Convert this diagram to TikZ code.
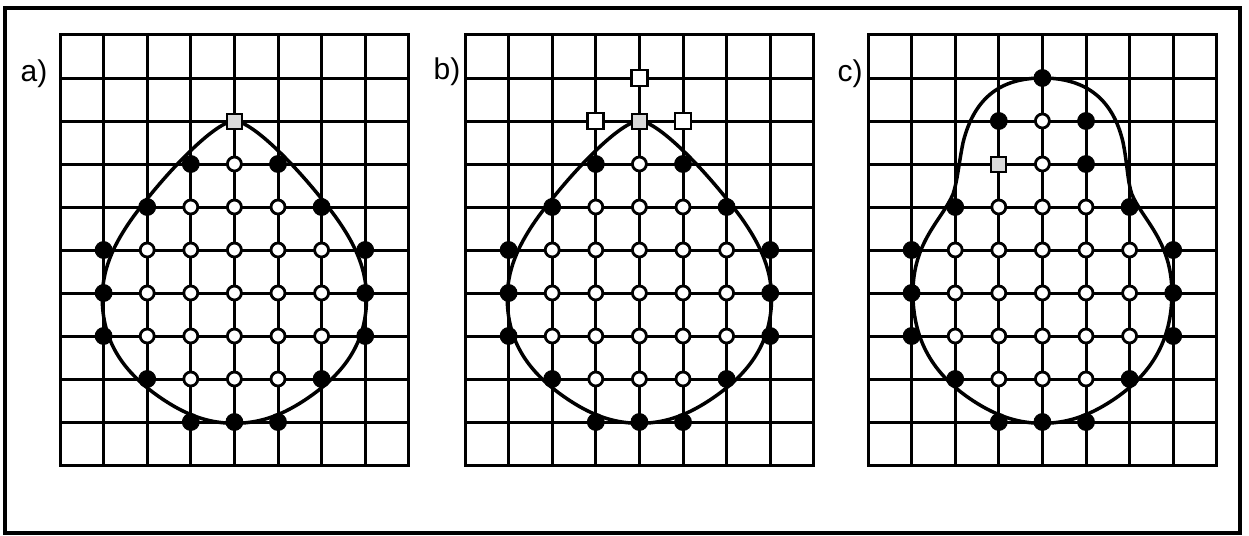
\documentclass[tikz,border=0pt]{standalone}
\usepackage{fontspec}
\setmainfont{Liberation Sans}
\begin{document}
\begin{tikzpicture}[x=1pt,y=-1pt,
  gridline/.style={line width=3pt},
  curveline/.style={line width=3.5pt},
  frameline/.style={line width=3.6pt},
  bdot/.style={circle,fill=black,draw=black,line width=0.8pt,minimum size=17pt,inner sep=0pt},
  wdot/.style={circle,fill=white,draw=black,line width=2.8pt,minimum size=14pt,inner sep=0pt},
  gsq/.style={rectangle,fill=gray!30,draw=black,line width=2pt,minimum size=15pt,inner sep=0pt},
  wsq/.style={rectangle,fill=white,draw=black,line width=2.8pt,minimum size=16pt,inner sep=0pt},
  lbl/.style={font=\fontsize{30}{30}\selectfont,inner sep=0pt},
  panel/.style={x=43.6pt,y=-43pt}]
\useasboundingbox (0,0) rectangle (1249,535);
\draw[frameline] (5,8) rectangle (1240,533);
\node[lbl] (la) at (34,74) {a)};
\node[lbl] (lb) at (447,72) {b)};
\node[lbl] (lc) at (850,74) {c)};
\def\eggpath{(4,2) .. controls (4.4,2) and (5.45,3.05) .. (6.3,4.2) .. controls (6.8,4.9) and (7.05,5.5) .. (7.03,6.2) .. controls (7.0,7.2) and (6.5,7.9) .. (5.6,8.5) .. controls (5.0,8.9) and (4.5,9.03) .. (4,9.03) .. controls (3.5,9.03) and (3.0,8.9) .. (2.4,8.5) .. controls (1.5,7.9) and (1.0,7.2) .. (0.97,6.2) .. controls (0.95,5.5) and (1.2,4.9) .. (1.7,4.2) .. controls (2.55,3.05) and (3.6,2) .. cycle}
% ---------- panel a ----------
\begin{scope}[xshift=60pt,yshift=-35pt,panel]
  \foreach \i in {1,...,7} \draw[gridline] (\i,0) -- (\i,10);
  \foreach \j in {1,...,9} \draw[gridline] (0,\j) -- (8,\j);
  \draw[gridline] (0,0) rectangle (8,10);
  \draw[curveline] \eggpath;
  \foreach \i/\j in {3/3,5/3,2/4,6/4,1/5,7/5,1/6,7/6,1/7,7/7,2/8,6/8,3/9,4/9,5/9}
    \node[bdot] (a-\i-\j) at (\i,\j) {};
  \foreach \i/\j in {4/3,3/4,4/4,5/4,2/5,3/5,4/5,5/5,6/5,2/6,3/6,4/6,5/6,6/6,2/7,3/7,4/7,5/7,6/7,3/8,4/8,5/8}
    \node[wdot] (a-\i-\j) at (\i,\j) {};
  \node[gsq] (a-4-2) at (4,2) {};
\end{scope}
% ---------- panel b ----------
\begin{scope}[xshift=465pt,yshift=-35pt,panel]
  \foreach \i in {1,...,7} \draw[gridline] (\i,0) -- (\i,10);
  \foreach \j in {1,...,9} \draw[gridline] (0,\j) -- (8,\j);
  \draw[gridline] (0,0) rectangle (8,10);
  \draw[curveline] \eggpath;
  \foreach \i/\j in {3/3,5/3,2/4,6/4,1/5,7/5,1/6,7/6,1/7,7/7,2/8,6/8,3/9,4/9,5/9}
    \node[bdot] (b-\i-\j) at (\i,\j) {};
  \foreach \i/\j in {4/3,3/4,4/4,5/4,2/5,3/5,4/5,5/5,6/5,2/6,3/6,4/6,5/6,6/6,2/7,3/7,4/7,5/7,6/7,3/8,4/8,5/8}
    \node[wdot] (b-\i-\j) at (\i,\j) {};
  \node[gsq] (b-4-2) at (4,2) {};
  \foreach \i/\j in {3/2,5/2,4/1}
    \node[wsq] (b-\i-\j) at (\i,\j) {};
\end{scope}
% ---------- panel c ----------
\begin{scope}[xshift=868pt,yshift=-35pt,panel]
  \foreach \i in {1,...,7} \draw[gridline] (\i,0) -- (\i,10);
  \foreach \j in {1,...,9} \draw[gridline] (0,\j) -- (8,\j);
  \draw[gridline] (0,0) rectangle (8,10);
  \draw[curveline] (4,1) .. controls (4.9,1) and (5.6,1.4) .. (5.85,2.5) .. controls (5.95,3.0) and (5.95,3.4) .. (6.05,3.7) .. controls (6.3,4.3) and (6.97,4.8) .. (6.97,6.0) .. controls (6.97,7.1) and (6.5,7.9) .. (5.6,8.5) .. controls (5.0,8.9) and (4.5,9.03) .. (4,9.03) .. controls (3.5,9.03) and (3.0,8.9) .. (2.4,8.5) .. controls (1.5,7.9) and (1.03,7.1) .. (1.03,6.0) .. controls (1.03,4.8) and (1.7,4.3) .. (1.95,3.7) .. controls (2.05,3.4) and (2.08,3.0) .. (2.18,2.5) .. controls (2.45,1.4) and (3.1,1.0) .. cycle;
  \foreach \i/\j in {4/1,3/2,5/2,5/3,2/4,6/4,1/5,7/5,1/6,7/6,1/7,7/7,2/8,6/8,3/9,4/9,5/9}
    \node[bdot] (c-\i-\j) at (\i,\j) {};
  \foreach \i/\j in {4/2,4/3,3/4,4/4,5/4,2/5,3/5,4/5,5/5,6/5,2/6,3/6,4/6,5/6,6/6,2/7,3/7,4/7,5/7,6/7,3/8,4/8,5/8}
    \node[wdot] (c-\i-\j) at (\i,\j) {};
  \node[gsq] (c-3-3) at (3,3) {};
\end{scope}
\end{tikzpicture}
\end{document}
